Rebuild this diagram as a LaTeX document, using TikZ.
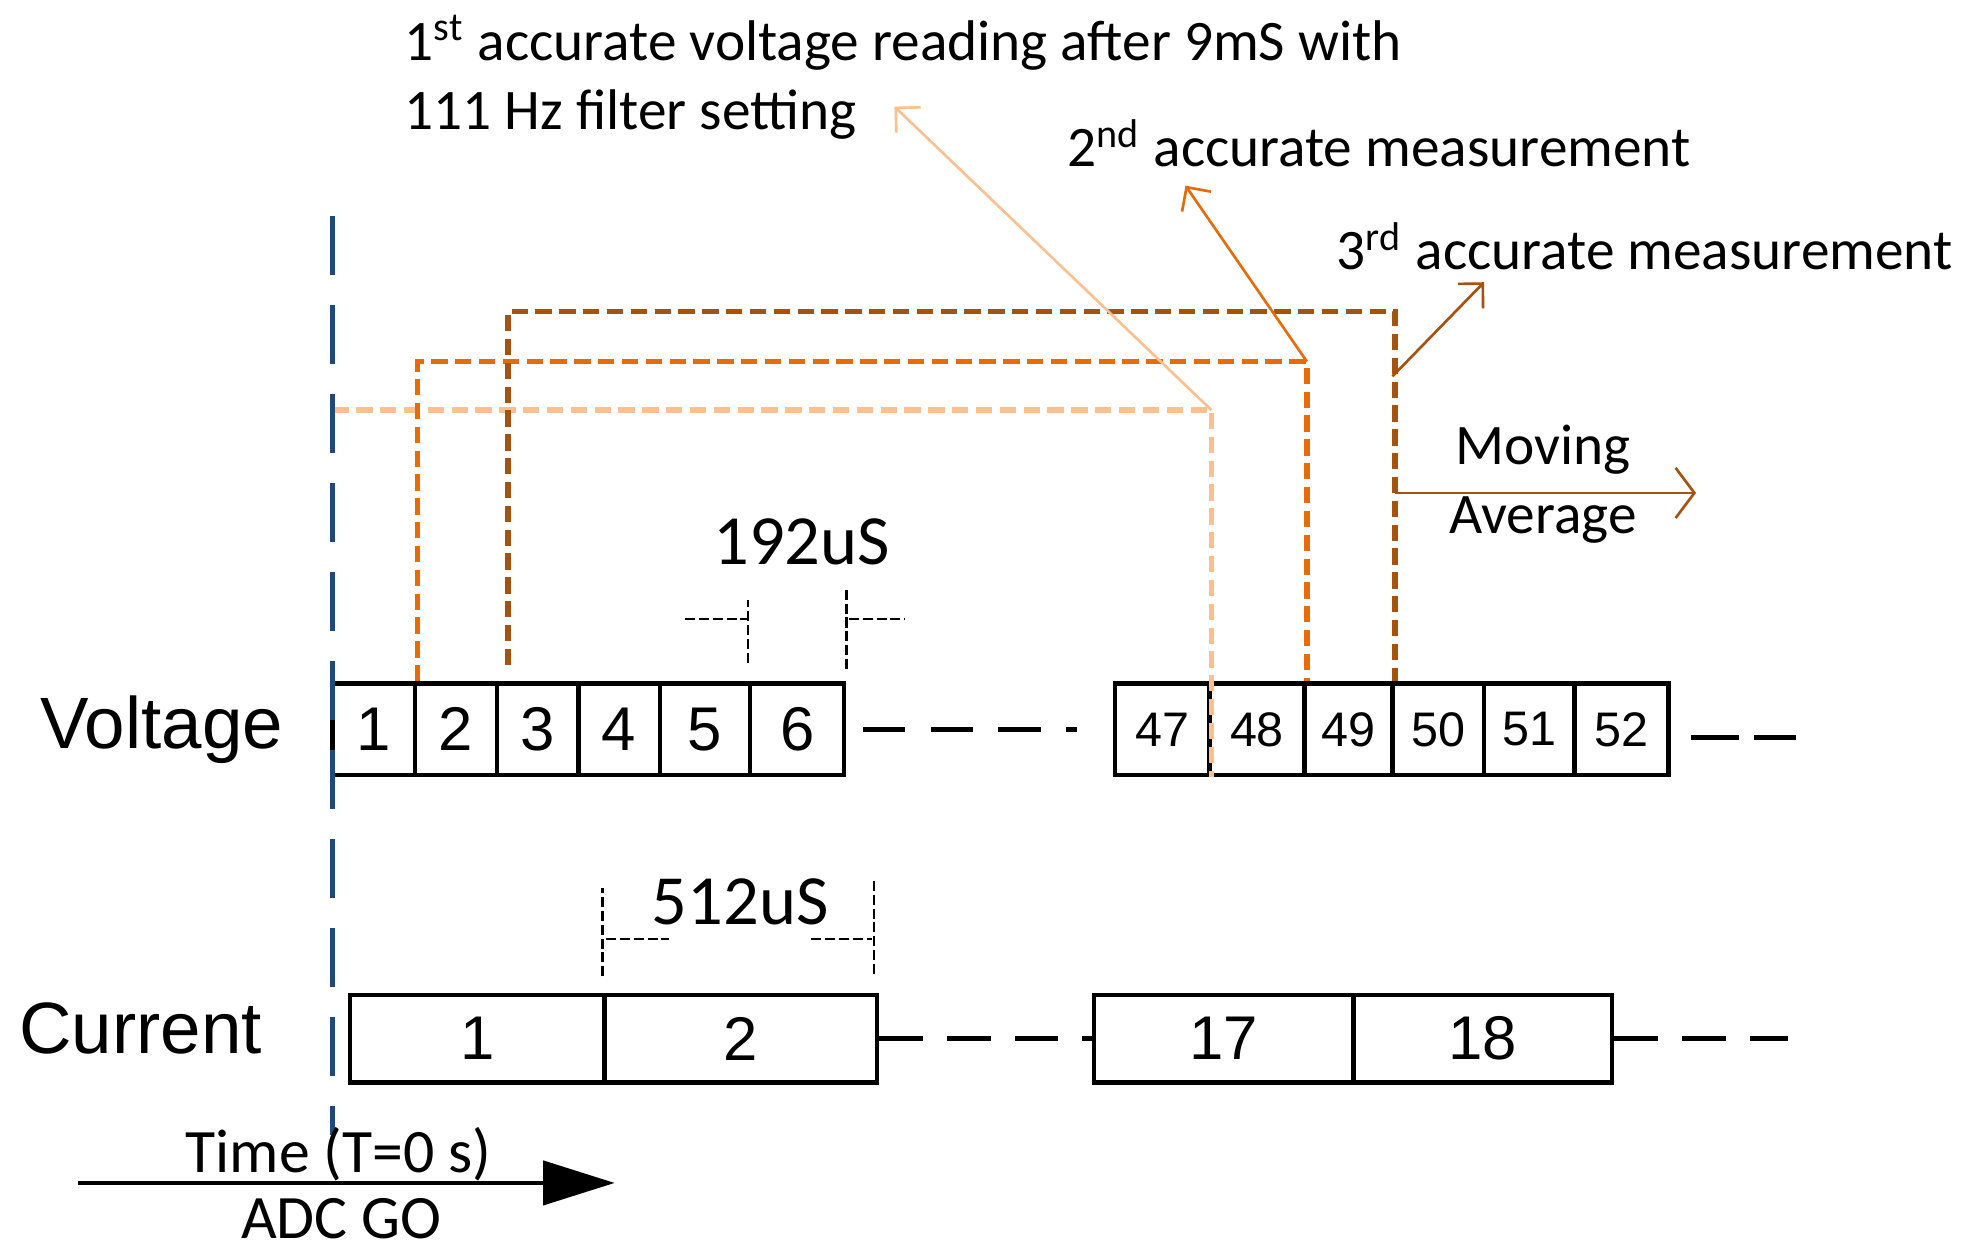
\documentclass[tikz,border=0pt]{standalone}
\usepackage{fontspec}
\setmainfont{Carlito}
\newfontfamily\arialfont{Liberation Sans}
\usepackage{tikz}
\usetikzlibrary{arrows.meta, positioning, calc}
\usepackage{xcolor}
\definecolor{GoBlue}{HTML}{1F497D}
\definecolor{OrangeLight}{HTML}{FAC090}
\definecolor{OrangeMid}{HTML}{E46C0A}
\definecolor{OrangeDark}{HTML}{A5520F}
\tikzset{
    % Node styles
    vbox/.style={
        rectangle,
        draw=black,
        line width=1pt,
        minimum height=0.73cm,
        inner sep=0pt,
        text centered,
        font=\arialfont\fontsize{14}{14}\selectfont
    },
    cbox/.style={
        vbox,
        minimum height=0.70cm
    },
    rowtext/.style={
        inner sep=0pt,
        anchor=base,
        font=\arialfont\fontsize{16.5}{16.5}\selectfont
    },
    notetext/.style={
        inner sep=0pt,
        anchor=base west,
        font=\fontsize{13}{16}\selectfont
    },
    spantext/.style={
        inner sep=0pt,
        anchor=base,
        font=\fontsize{16}{16}\selectfont
    },
    timetext/.style={
        inner sep=0pt,
        anchor=base,
        font=\fontsize{14}{14}\selectfont
    },
    % Line styles
    gapline/.style={
        black,
        line width=1pt,
        dash pattern=on 3.4mm off 2.0mm
    },
    markline/.style={
        black,
        line width=0.5pt,
        dash pattern=on 0.8mm off 0.3mm
    },
    goline/.style={
        GoBlue,
        line width=1pt,
        dash pattern=on 4.7mm off 2.4mm
    },
    peachline/.style={
        OrangeLight,
        line width=1.3pt,
        dash pattern=on 1.3mm off 0.6mm
    },
    midline/.style={
        OrangeMid,
        line width=1.3pt,
        dash pattern=on 1.3mm off 0.6mm
    },
    darkline/.style={
        OrangeDark,
        line width=1.3pt,
        dash pattern=on 1.3mm off 0.6mm
    },
    % Arrow styles
    notearrow/.style={
        -{Straight Barb[length=1.4mm,width=2.8mm]},
        line width=0.6pt
    },
    timearrow/.style={
        -{Triangle[length=5.7mm,width=3.5mm]},
        line width=1pt,
        black
    }
}

\begin{document}
\begin{tikzpicture}
    \useasboundingbox (0,0) rectangle (15.68,10);

    % Voltage samples
    \node[rowtext] (volt) at (1.29,4.03) {Voltage};
    \foreach \n/\l/\r in {1/2.65/3.31, 2/3.31/3.96, 3/3.96/4.61, 4/4.61/5.26, 5/5.26/5.98, 6/5.98/6.73} {
        \node[vbox, minimum width={(\r-\l)*1cm}] (v\n) at ({(\l+\r)/2},4.185) {\n};
    }
    \foreach \n/\l/\r in {47/8.89/9.64, 48/9.64/10.40, 49/10.40/11.10, 50/11.10/11.83, 51/11.83/12.55, 52/12.55/13.30} {
        \node[vbox, minimum width={(\r-\l)*1cm}, font=\arialfont\fontsize{11}{11}\selectfont] (v\n) at ({(\l+\r)/2},4.185) {\n};
    }
    \draw[gapline] ([xshift=1.3mm]v6.east) -- ([xshift=-2.9mm]v47.west);
    \coordinate (vend0) at (13.48,4.12);
    \coordinate (vend) at (14.32,4.12);
    \draw[gapline, dash pattern=on 3.8mm off 1.2mm] (vend0) -- (vend);

    % Current samples
    \node[rowtext] (curr) at (1.12,1.60) {Current};
    \foreach \n/\l/\r in {1/2.79/4.82, 2/4.82/6.99, 17/8.72/10.79, 18/10.79/12.85} {
        \node[cbox, minimum width={(\r-\l)*1cm}] (c\n) at ({(\l+\r)/2},1.72) {\n};
    }
    \coordinate (cend) at (14.25,1.72);
    \draw[gapline, dash pattern=on 3.5mm off 1.9mm] (c2.east) -- (c17.west);
    \draw[gapline, dash pattern=on 3.5mm off 1.9mm] (c18.east) -- (cend);

    % Sample periods
    \node[spantext] (vper) at (6.39,5.50) {192uS};
    \draw[markline] ([yshift=1.5mm]v6.north west) -- ++(0,0.5);
    \draw[markline] ([shift={(-0.5,0.5)}]v6.north west) -- ++(0.5,0);
    \draw[markline] ([yshift=1mm]v6.north east) -- ++(0,0.65);
    \draw[markline] ([shift={(0.02,0.5)}]v6.north east) -- ++(0.45,0);
    \node[spantext] (cper) at (5.90,2.63) {512uS};
    \draw[markline] ([yshift=1.3mm]c2.north west) -- ++(0,0.7);
    \draw[markline] ([shift={(0.03,0.43)}]c2.north west) -- ++(0.5,0);
    \draw[markline] ([shift={(-0.04,0.15)}]c2.north east) -- ++(0,0.75);
    \draw[markline] ([shift={(-0.54,0.43)}]c2.north east) -- ++(0.48,0);

    % Filter windows
    \coordinate (p1) at (2.65,6.73);
    \draw[peachline] (p1) -| coordinate[pos=0.5] (k1) (v47.south east);
    \draw[midline] (v1.north east) -- ++(0,2.55) -| coordinate[pos=0.5] (k2) (v48.north east);
    \draw[darkline] ([shift={(0.07,0.13)}]v2.north east) -- ++(0,2.82) -| (v49.north east);

    % Notes
    \node[notetext] (note1a) at (3.22,9.52) {1\textsuperscript{st} accurate voltage reading after 9mS with};
    \node[notetext] (note1b) at ([yshift=-5.5mm]note1a.base west) {111 Hz filter setting};
    \node[notetext] (note2) at (8.50,8.67) {2\textsuperscript{nd} accurate measurement};
    \node[notetext] (note3) at (10.65,7.85) {3\textsuperscript{rd} accurate measurement};
    \node[notetext, anchor=base] (mov) at (12.30,6.30) {Moving};
    \node[notetext, anchor=base] (avg) at (12.30,5.75) {Average};

    \coordinate (tip1) at (7.13,9.15);
    \coordinate (tip2) at (9.45,8.52);
    \coordinate (s3) at (11.10,7.00);
    \coordinate (tip3) at (11.83,7.75);
    \coordinate (mavg) at (13.52,6.07);
    \draw[notearrow, OrangeLight] (k1) -- (tip1);
    \draw[notearrow, OrangeMid] (k2) -- (tip2);
    \draw[notearrow, OrangeDark] (s3) -- (tip3);
    \draw[notearrow, OrangeDark, -{Straight Barb[length=1.5mm,width=4mm]}] (mavg -| v49.north east) -- (mavg);

    % ADC GO
    \draw[goline] (2.65,8.28) -- (2.65,0.95);
    \coordinate (tstart) at (0.62,0.57);
    \coordinate (tend) at (4.90,0.57);
    \draw[timearrow] (tstart) -- (tend);
    \node[timetext] (tlabel) at (2.70,0.65) {Time (T=0 s)};
    \node[timetext] (adcgo) at (2.72,0.13) {ADC GO};
\end{tikzpicture}
\end{document}
